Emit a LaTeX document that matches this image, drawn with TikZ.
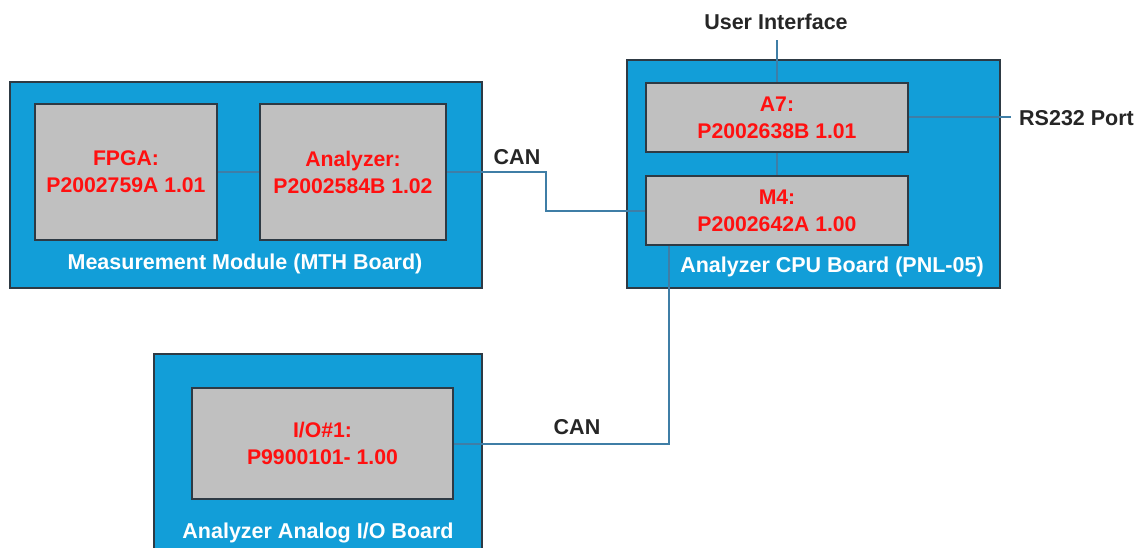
\documentclass[tikz,border=0pt]{standalone}
\usepackage{fontspec}
\setmainfont{Liberation Sans}
\definecolor{boardblue}{HTML}{129ED8}
\definecolor{chipgray}{HTML}{C0C0C0}
\definecolor{edgedark}{HTML}{2E3A44}
\definecolor{wire}{HTML}{3F7EA6}
\definecolor{redtxt}{HTML}{FF1010}
\begin{document}
\begin{tikzpicture}[x=1pt,y=-1pt,
  board/.style={draw=edgedark, line width=1.2pt, fill=boardblue, inner sep=0pt},
  chip/.style={draw=edgedark, line width=1.8pt, fill=chipgray, inner sep=0pt, align=center,
    text=redtxt, font=\fontsize{21.2}{27}\selectfont\bfseries},
  boardlabel/.style={text=white, font=\fontsize{21.5}{24}\selectfont\bfseries, inner sep=0pt},
  extlabel/.style={text=black!85, font=\fontsize{21.5}{24}\selectfont\bfseries, inner sep=0pt},
  wireline/.style={draw=wire, line width=2pt}]
\useasboundingbox (0,0) rectangle (1139,548);
\clip (0,0) rectangle (1139,548);
% boards
\node[board, minimum width=472pt, minimum height=206pt] (mth) at (246,185) {};
\node[board, minimum width=373pt, minimum height=228pt] (cpu) at (813.5,174) {};
\node[board, minimum width=328pt, minimum height=210pt] (iob) at (318,459) {};
% junction points
\coordinate (ui) at (777,40);
\coordinate (rs) at (1011,117.5);
\coordinate (j1) at (546,172);
\coordinate (j2) at (546,210.5);
\coordinate (j3) at (669,443.5);
% chips
\node[chip, minimum width=182pt, minimum height=136pt] (fpga) at (126,172) {FPGA:\\P2002759A 1.01};
\node[chip, minimum width=186pt, minimum height=136pt] (anlz) at (353,172) {Analyzer:\\P2002584B 1.02};
\node[chip, minimum width=262pt, minimum height=69pt] (a7) at (777,117.5) {A7:\\P2002638B 1.01};
\node[chip, minimum width=262pt, minimum height=69pt] (m4) at (777,210.5) {M4:\\P2002642A 1.00};
\node[chip, minimum width=261pt, minimum height=111pt] (io) at (322.5,443.5) {I/O\#1:\\P9900101- 1.00};
% wires
\draw[wireline] (fpga.east) -- (anlz.west);
\draw[wireline] (anlz.east) -- (j1) -- (j2) -- (m4.west);
\draw[wireline] (a7.north) -- (ui);
\draw[wireline] (a7.south) -- (m4.north);
\draw[wireline] (a7.east) -- (rs);
\draw[wireline] (m4.south -| j3) -- (j3) -- (io.east);
% board labels
\node[boardlabel] (mthl) at (245,264) {Measurement Module (MTH Board)};
\node[boardlabel] (cpul) at (832,267) {Analyzer CPU Board (PNL-05)};
\node[boardlabel] (iobl) at (318,533) {Analyzer Analog I/O Board};
% external labels
\node[extlabel] (uil) at (776,22) {User Interface};
\node[extlabel, anchor=west] (rsl) at (1019,118) {RS232 Port};
\node[extlabel] (can1) at (517,157) {CAN};
\node[extlabel] (can2) at (577,427) {CAN};
\end{tikzpicture}
\end{document}
